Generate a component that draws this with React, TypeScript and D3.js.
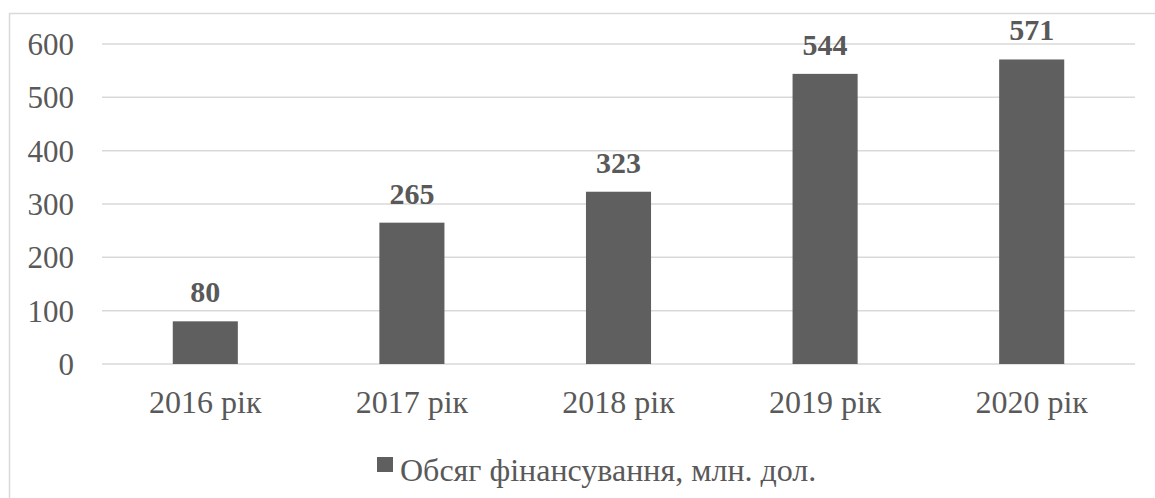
import * as d3 from "d3";

const YEARS = ["2016 рік", "2017 рік", "2018 рік", "2019 рік", "2020 рік"];
const FUNDING = [80, 265, 323, 544, 571];
const Y_TICKS = [0, 100, 200, 300, 400, 500, 600];
const SERIES_NAME = "Обсяг фінансування, млн. дол.";

const W = 1155;
const H = 498;
const FONT = "Liberation Serif, Times New Roman, DejaVu Serif, serif";
const TEXT = "#595959";
const GRID = "#d9d9d9";
const BAR = "#5f5f5f";

export default function App() {
  const x = d3.scaleBand<string>().domain(YEARS).range([102, 1135]).paddingInner(0.685).paddingOuter(0.3425);
  const y = d3.scaleLinear().domain([0, 600]).range([364, 44]);

  return (
    <svg
      width={W}
      height={H}
      style={{ position: "absolute", left: 0, top: 0, background: "#fff", fontFamily: FONT }}
    >
      <rect x={9.5} y={13.5} width={W} height={H} fill="none" stroke={GRID} strokeWidth={1.5} />

      {Y_TICKS.map((t) => (
        <g key={t}>
          <line x1={102} x2={1135} y1={y(t)} y2={y(t)} stroke={GRID} strokeWidth={1.5} />
          <text x={74} y={y(t) + 11} textAnchor="end" fontSize={31} fill={TEXT}>
            {t}
          </text>
        </g>
      ))}

      {YEARS.map((yr, i) => {
        const bx = x(yr) ?? 0;
        const cx = bx + x.bandwidth() / 2;
        return (
          <g key={yr}>
            <rect x={bx} y={y(FUNDING[i])} width={x.bandwidth()} height={y(0) - y(FUNDING[i])} fill={BAR} />
            <text x={cx} y={y(FUNDING[i]) - 19} textAnchor="middle" fontSize={30} fontWeight="bold" fill={TEXT}>
              {FUNDING[i]}
            </text>
            <text x={cx} y={413} textAnchor="middle" fontSize={32} fill={TEXT}>
              {yr}
            </text>
          </g>
        );
      })}

      <rect x={377} y={457} width={16} height={15} fill={BAR} />
      <text x={400} y={481} fontSize={32} fill={TEXT}>
        {SERIES_NAME}
      </text>
    </svg>
  );
}
